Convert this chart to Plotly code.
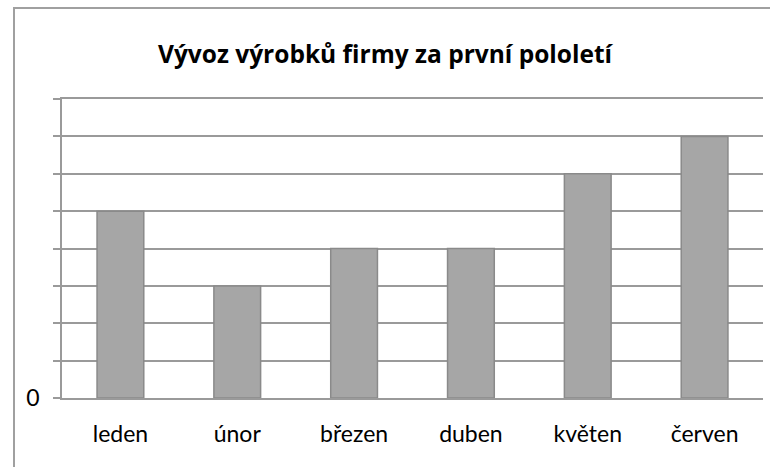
import plotly.graph_objects as go

months = ["leden", "únor", "březen", "duben", "květen", "červen"]
values = [5, 3, 4, 4, 6, 7]
y_ticks = [0, 1, 2, 3, 4, 5, 6, 7, 8]
y_labels = ["0", "", "", "", "", "", "", "", ""]
title = "Vývoz výrobků firmy za první pololetí"

L, R, T, B = 62, 7, 99, 69
W, H = 770, 467
pw, ph = W - L - R, H - T - B
GRID = "#9a9a9a"

fig = go.Figure(go.Bar(
    x=months, y=values, width=0.4,
    marker=dict(color="#a6a6a6", line=dict(color="#8a8a8a", width=1.5)),
))

fig.update_layout(
    width=W, height=H,
    margin=dict(l=L, r=R, t=T, b=B),
    paper_bgcolor="white", plot_bgcolor="white",
    font=dict(family="Lato, Open Sans, sans-serif", size=23, color="#000000"),
    title=dict(text="<b>" + title + "</b>", x=0.5, xanchor="center",
               y=1 - 54 / H, yanchor="middle",
               font=dict(size=24.5, family="Open Sans, sans-serif")),
    showlegend=False,
)
fig.update_yaxes(
    range=[0, 8], tickmode="array", tickvals=y_ticks, ticktext=y_labels,
    showgrid=True, gridcolor=GRID, gridwidth=1.5,
    zeroline=False,
    showline=True, linecolor=GRID, linewidth=1.5,
    ticks="outside", ticklen=7, tickcolor=GRID, tickwidth=1.5,
    tickfont=dict(size=23), ticklabelstandoff=9, fixedrange=True,
)
fig.update_xaxes(
    showgrid=False, zeroline=False, ticks="",
    showline=True, mirror=True, linecolor=GRID, linewidth=1.5,
    tickfont=dict(size=23), ticklabelstandoff=15, fixedrange=True,
)

x0 = (14 - L) / pw
y1 = (H - B - 8) / ph
fig.add_shape(type="rect", xref="paper", yref="paper",
              x0=x0, x1=1.2, y0=-0.5, y1=y1,
              line=dict(color="#a0a0a0", width=2), layer="below")

fig.write_html("out.html", config={"displayModeBar": False},
               post_script="document.body.style.margin='0';")
